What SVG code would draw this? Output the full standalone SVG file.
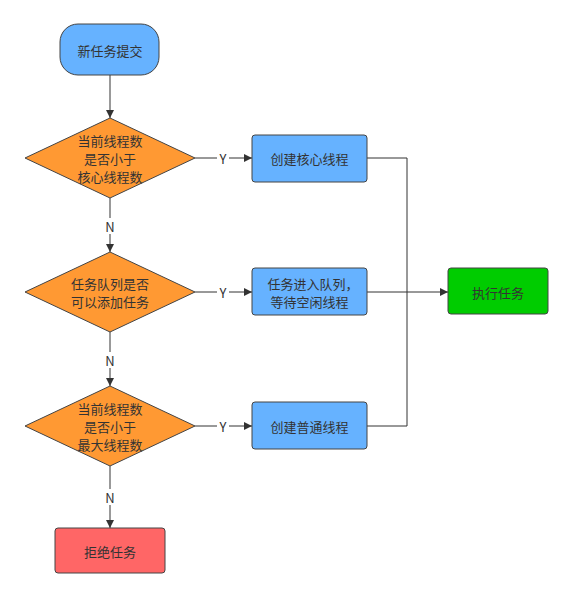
<svg xmlns="http://www.w3.org/2000/svg" width="572" height="599" viewBox="0 0 572 599">
<defs>
<marker id="arr" viewBox="0 0 10 10" refX="10" refY="5" markerWidth="8" markerHeight="8" markerUnits="userSpaceOnUse" orient="auto">
<path d="M0,0 L10,5 L0,10 Z" fill="#333"/>
</marker>
</defs>
<style>
text{font-family:"Noto Sans CJK SC","Liberation Sans",sans-serif;font-size:13px;fill:#333;text-anchor:middle;dominant-baseline:central}
.blue{fill:#66b2ff;stroke:#444;stroke-width:1}
.dia{fill:#ff9933;stroke:#444;stroke-width:1}
.green{fill:#00cc00;stroke:#444;stroke-width:1}
.red{fill:#ff6666;stroke:#444;stroke-width:1}
.gl{stroke:#999;stroke-width:2;fill:none}
.dl{stroke:#333;stroke-width:1;fill:none}
.lbl{fill:#fff}
</style>
<rect width="572" height="599" fill="#fff"/>
<g id="connectors">
<line class="gl" x1="110" y1="75" x2="110" y2="118" marker-end="url(#arr)"/>
<line class="gl" x1="110" y1="198" x2="110" y2="252" marker-end="url(#arr)"/>
<line class="gl" x1="110" y1="332" x2="110" y2="386" marker-end="url(#arr)"/>
<line class="gl" x1="110" y1="466" x2="110" y2="528" marker-end="url(#arr)"/>
<line class="dl" x1="195" y1="158" x2="252" y2="158" marker-end="url(#arr)"/>
<line class="dl" x1="195" y1="292" x2="252" y2="292" marker-end="url(#arr)"/>
<line class="dl" x1="195" y1="426" x2="252" y2="426" marker-end="url(#arr)"/>
<polyline class="dl" points="367,158 407,158 407,426 367,426"/>
<line class="dl" x1="367" y1="292" x2="448" y2="292" marker-end="url(#arr)"/>
<rect class="lbl" x="103" y="218" width="14" height="16"/>
<text x="110" y="226">N</text>
<rect class="lbl" x="103" y="352" width="14" height="16"/>
<text x="110" y="360">N</text>
<rect class="lbl" x="103" y="489" width="14" height="16"/>
<text x="110" y="497">N</text>
<rect class="lbl" x="217" y="151" width="12" height="14"/>
<text x="223" y="158">Y</text>
<rect class="lbl" x="217" y="285" width="12" height="14"/>
<text x="223" y="292">Y</text>
<rect class="lbl" x="217" y="419" width="12" height="14"/>
<text x="223" y="426">Y</text>
</g>
<g id="start">
<rect class="blue" x="60" y="24" width="99" height="51" rx="18" ry="18"/>
<text x="110" y="50">新任务提交</text>
</g>
<g id="d1">
<polygon class="dia" points="110,118 195,158 110,198 25,158"/>
<text x="110" y="140">当前线程数</text>
<text x="110" y="158">是否小于</text>
<text x="110" y="176">核心线程数</text>
</g>
<g id="d2">
<polygon class="dia" points="110,252 195,292 110,332 25,292"/>
<text x="110" y="283">任务队列是否</text>
<text x="110" y="301">可以添加任务</text>
</g>
<g id="d3">
<polygon class="dia" points="110,386 195,426 110,466 25,426"/>
<text x="110" y="408">当前线程数</text>
<text x="110" y="426">是否小于</text>
<text x="110" y="444">最大线程数</text>
</g>
<g id="b1">
<rect class="blue" x="252" y="135" width="115" height="47" rx="3"/>
<text x="309.5" y="158">创建核心线程</text>
</g>
<g id="b2">
<rect class="blue" x="252" y="268" width="115" height="47" rx="3"/>
<text x="313" y="283">任务进入队列，</text>
<text x="309.5" y="301">等待空闲线程</text>
</g>
<g id="b3">
<rect class="blue" x="252" y="402" width="115" height="47" rx="3"/>
<text x="309.5" y="426">创建普通线程</text>
</g>
<g id="exec">
<rect class="green" x="448" y="268" width="100" height="46" rx="3"/>
<text x="498" y="292">执行任务</text>
</g>
<g id="reject">
<rect class="red" x="55" y="528" width="110" height="45" rx="3"/>
<text x="110" y="551">拒绝任务</text>
</g>
</svg>
